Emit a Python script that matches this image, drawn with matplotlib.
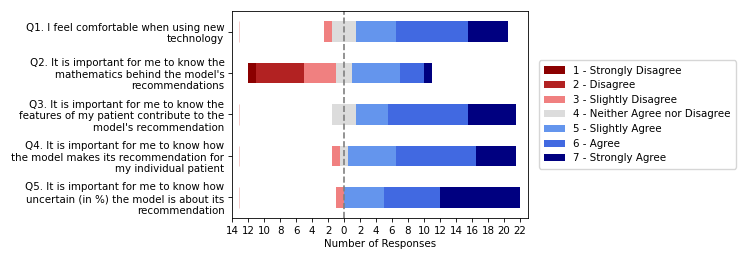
import numpy as np
import matplotlib.pyplot as plt

questions = [
    "Q1. I feel comfortable when using new\ntechnology",
    "Q2. It is important for me to know the\nmathematics behind the model's\nrecommendations",
    "Q3. It is important for me to know the\nfeatures of my patient contribute to the\nmodel's recommendation",
    "Q4. It is important for me to know how\nthe model makes its recommendation for\nmy individual patient",
    "Q5. It is important for me to know how\nuncertain (in %) the model is about its\nrecommendation",
]
levels = [
    "1 - Strongly Disagree",
    "2 - Disagree",
    "3 - Slightly Disagree",
    "4 - Neither Agree nor Disagree",
    "5 - Slightly Agree",
    "6 - Agree",
    "7 - Strongly Agree",
]
colors = ["#8b0000", "#b22222", "#f08080", "#dcdcdc", "#6495ed", "#4169e1", "#000080"]

# counts per question for answers 1..7
q1 = [0, 0, 1, 3, 5, 9, 5]
q2 = [1, 6, 4, 2, 6, 3, 1]
q3 = [0, 0, 0, 3, 4, 10, 6]
q4 = [0, 0, 1, 1, 6, 10, 5]
q5 = [0, 0, 1, 0, 5, 7, 10]

counts = np.array([q1, q2, q3, q4, q5], dtype=float)

# center each bar on the middle of the neutral answer
starts = -(counts[:, :3].sum(axis=1) + counts[:, 3] / 2)
y = np.arange(len(questions))

fig, ax = plt.subplots(figsize=(7.47, 2.62), dpi=100)
fig.subplots_adjust(left=0.3106, right=0.7068, bottom=0.168, top=0.958)

fs = 7.4
left = starts.copy()
for j in range(len(levels)):
    ax.barh(y, counts[:, j], left=left, height=0.5, color=colors[j], label=levels[j])
    left = left + counts[:, j]

# faint edge of the padding bars
empty = counts[:, 0] == 0
ax.barh(y[empty], 0, left=-13.15, height=0.5, color="none",
        edgecolor="#f2c4c4", linewidth=0.6)

ax.axvline(0, color="gray", linestyle="--", linewidth=1.2)

ax.set_xlim(-14, 23)
ax.set_ylim(len(questions) - 0.5, -0.5)
xt = np.arange(-14, 23, 2)
ax.set_xticks(xt)
ax.set_xticklabels([str(abs(v)) for v in xt], fontsize=fs)
ax.set_yticks(y)
ax.set_yticklabels(questions, fontsize=fs)
ax.set_xlabel("Number of Responses", fontsize=fs, labelpad=2.5)
ax.tick_params(length=3, width=0.6, pad=2.5)
for s in ax.spines.values():
    s.set_linewidth(0.6)

ax.legend(loc="center left", bbox_to_anchor=(1.02, 0.5), fontsize=fs,
          handlelength=2.0, labelspacing=0.45, borderpad=0.5)

fig.savefig("out.png", dpi=100)
